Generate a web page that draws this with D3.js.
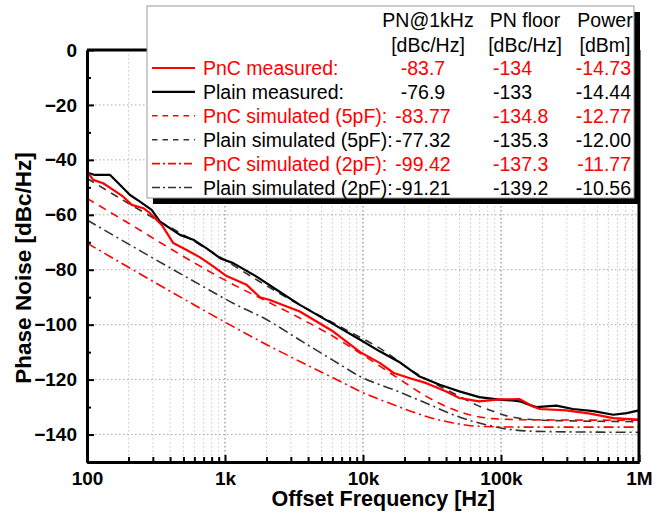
<!DOCTYPE html>
<meta charset="utf-8">
<style>
body { margin: 0; background: #fff; }
svg { font-family: "Liberation Sans", Arial, sans-serif; }
.axis text { font-size: 19px; font-weight: bold; fill: #000; }
.axis path, .axis line { stroke: #000; }
.grid line { fill: none; }
.legend text { font-size: 19.5px; }
</style>
<svg width="654" height="512"></svg>
<script src="https://cdn.jsdelivr.net/npm/d3@7"></script>
<script>

// measured & simulated phase noise, [offset Hz, dBc/Hz]
var plainMeasured = [[100,-44.6],[114,-45.5],[147,-45.5],[164,-47.9],[205,-52.8],[242,-55.2],[294,-58.2],[338,-62.5],
  [472,-67.3],[589,-69.1],[736,-72.2],[921,-75.8],[1146,-77.6],[1694,-82.5],[2363,-87.3],[3485,-92.8],[6095,-99.8],
  [9545,-105.5],[13300,-109.8],[18580,-113.8],[25750,-118.9],[36000,-121.9],[49900,-124.3],[69500,-126.4],
  [97000,-127.3],[120000,-127.6],[137000,-127.9],[161000,-129.2],[180000,-130],[252000,-129.5],[332000,-130.7],
  [468000,-131.5],[650000,-132.8],[815000,-132.2],[1000000,-131.2]];

var pncMeasured = [[100,-44.2],[111,-47.3],[131,-48.5],[155,-50.9],[183,-53.4],[211,-56.4],[256,-57.6],[286,-59.4],
  [348,-63.7],[422,-70.3],[527,-72.8],[659,-75.5],[822,-78.8],[1027,-82.3],[1434,-85.5],[1792,-90],[2113,-91],
  [3485,-95.2],[6095,-102.5],[9545,-110],[13300,-114],[16700,-117.6],[21900,-119.5],[28800,-121.3],[40100,-124.3],
  [49900,-126.7],[69500,-127.9],[97000,-127.2],[137000,-127.1],[170000,-129.8],[191000,-130.7],[297000,-131.2],
  [443000,-132.4],[650000,-134],[1000000,-134.6]];

var pncSim5 = [[100,-54],[183,-61.9],[660,-78.7],[1000,-83.8],[2008,-91.5],[3485,-97.6],[6095,-104.3],[9545,-110.4],
  [18580,-120],[28800,-126.1],[40100,-129.8],[59000,-132.8],[87500,-134.2],[150000,-134.6],[1000000,-134.8]];

var plainSim5 = [[100,-46.7],[205,-56.2],[660,-70.9],[1000,-76.5],[1738,-84],[3485,-92.8],[6830,-100.7],[15660,-111],
  [20700,-115.5],[36000,-122.4],[49900,-126.1],[66000,-129.2],[87500,-131.5],[110000,-133.2],[200000,-134.8],[1000000,-135.3]];

var pncSim2 = [[100,-70.3],[660,-94],[1146,-100.7],[2008,-107.3],[3485,-113.4],[6810,-120.6],[9545,-124.3],
  [16700,-129.2],[28800,-133.4],[45000,-135.8],[69500,-137],[150000,-137.3],[1000000,-137.3]];

var plainSim2 = [[100,-61.9],[660,-85.5],[1146,-92.2],[2008,-98.2],[3485,-105.6],[6810,-114.5],[9545,-118.9],
  [16700,-123.7],[28800,-128.6],[45000,-132.8],[62600,-135.2],[87500,-137],[110000,-138],[200000,-138.9],[1000000,-139.2]];

var xTickValues = [100, 1e3, 1e4, 1e5, 1e6];
var xTickLabels = ["100", "1k", "10k", "100k", "1M"];
var yTickValues = [0, -20, -40, -60, -80, -100, -120, -140];

var legendNames = ["PnC measured:", "Plain measured:", "PnC simulated (5pF):", "Plain simulated (5pF):",
  "PnC simulated (2pF):", "Plain simulated (2pF):"];
var legendPN1k = ["-83.7", "-76.9", "-83.77", "-77.32", "-99.42", "-91.21"];
var legendFloor = ["-134", "-133", "-134.8", "-135.3", "-137.3", "-139.2"];
var legendPower = ["-14.73", "-14.44", "-12.77", "-12.00", "-11.77", "-10.56"];

var series = [
  { data: pncMeasured, color: "#ff0000", dash: null, width: 2.2, smooth: false },
  { data: plainMeasured, color: "#000", dash: null, width: 2.2, smooth: false },
  { data: pncSim5, color: "#ff0000", dash: "8,6", width: 1.6, smooth: true },
  { data: plainSim5, color: "#333", dash: "8,6", width: 1.6, smooth: true },
  { data: pncSim2, color: "#ff0000", dash: "10,4,2,4", width: 1.6, smooth: true },
  { data: plainSim2, color: "#333", dash: "10,4,2,4", width: 1.6, smooth: true }
];

var svg = d3.select("svg");
var margin = { left: 87, right: 15, top: 50, bottom: 50 };
var width = 654 - margin.left - margin.right,
    height = 512 - margin.top - margin.bottom;

var x = d3.scaleLog().domain([100, 1e6]).range([0, width]);
var y = d3.scaleLinear().domain([-150, 0]).range([height, 0]);

var g = svg.append("g").attr("transform", "translate(" + margin.left + "," + margin.top + ")");

// grid
var minorX = [];
xTickValues.slice(0, -1).forEach(function(d) {
  d3.range(2, 10).forEach(function(k) { minorX.push(d * k); });
});
var grid = g.append("g").attr("class", "grid");
grid.selectAll(".vminor").data(minorX).enter().append("line")
  .attr("x1", function(d) { return x(d); }).attr("x2", function(d) { return x(d); })
  .attr("y1", 0).attr("y2", height)
  .attr("stroke", "#c8c8c8").attr("stroke-width", 1).attr("stroke-dasharray", "1.5,2.5");
grid.selectAll(".vmajor").data(xTickValues.slice(1, -1)).enter().append("line")
  .attr("x1", function(d) { return x(d); }).attr("x2", function(d) { return x(d); })
  .attr("y1", 0).attr("y2", height)
  .attr("stroke", "#777").attr("stroke-width", 1).attr("stroke-dasharray", "1.5,2.5");
grid.selectAll(".hmajor").data(yTickValues.slice(1)).enter().append("line")
  .attr("x1", 0).attr("x2", width)
  .attr("y1", function(d) { return y(d); }).attr("y2", function(d) { return y(d); })
  .attr("stroke", "#aaa").attr("stroke-width", 1).attr("stroke-dasharray", "1.5,2.5");

// curves
var lineLin = d3.line().x(function(d) { return x(d[0]); }).y(function(d) { return y(d[1]); });
var lineSmooth = d3.line().x(function(d) { return x(d[0]); }).y(function(d) { return y(d[1]); })
  .curve(d3.curveMonotoneX);

g.selectAll(".curve").data(series.slice().reverse()).enter().append("path")
  .attr("class", "curve")
  .attr("fill", "none")
  .attr("stroke", function(d) { return d.color; })
  .attr("stroke-width", function(d) { return d.width; })
  .attr("stroke-dasharray", function(d) { return d.dash; })
  .attr("stroke-linejoin", "round")
  .attr("d", function(d) { return d.smooth ? lineSmooth(d.data) : lineLin(d.data); });

// axes
g.append("g").attr("class", "axis")
  .attr("transform", "translate(0," + height + ")")
  .call(d3.axisBottom(x).tickValues(xTickValues)
    .tickFormat(function(d, i) { return xTickLabels[i]; })
    .tickSize(-7).tickSizeOuter(0).tickPadding(10));
g.append("g").attr("class", "axis")
  .attr("transform", "translate(0," + height + ")")
  .call(d3.axisBottom(x).tickValues(minorX).tickFormat("").tickSize(-5).tickSizeOuter(0));

g.append("g").attr("class", "axis")
  .call(d3.axisLeft(y).tickValues(yTickValues).tickSize(-7).tickSizeOuter(0).tickPadding(10));
g.append("g").attr("class", "axis")
  .call(d3.axisLeft(y).tickValues(d3.range(-150, 0, 10).filter(function(d) { return d % 20 !== 0; }))
    .tickFormat("").tickSize(-4).tickSizeOuter(0));

g.selectAll(".axis .tick line").attr("stroke-width", 2);
g.selectAll(".axis .domain").attr("stroke-width", 3);

// top & right frame
g.append("line").attr("x1", 0).attr("x2", width).attr("y1", 0).attr("y2", 0)
  .attr("stroke", "#000").attr("stroke-width", 3);
g.append("line").attr("x1", width).attr("x2", width).attr("y1", 0).attr("y2", height)
  .attr("stroke", "#000").attr("stroke-width", 3);

// axis titles
svg.append("text")
  .attr("x", margin.left + x(1.4e4)).attr("y", 506)
  .attr("text-anchor", "middle")
  .attr("font-size", 21.5).attr("font-weight", "bold")
  .text("Offset Frequency [Hz]");
svg.append("text")
  .attr("transform", "translate(31,268) rotate(-90)")
  .attr("text-anchor", "middle")
  .attr("font-size", 22.5).attr("font-weight", "bold")
  .text("Phase Noise [dBc/Hz]");

// legend
var lg = svg.append("g").attr("class", "legend");
var box = { x: 147, y: 6, w: 487, h: 192 };
lg.append("rect").attr("x", box.x + 6).attr("y", box.y + 6).attr("width", box.w).attr("height", box.h).attr("fill", "#000");
lg.append("rect").attr("x", box.x).attr("y", box.y).attr("width", box.w).attr("height", box.h)
  .attr("fill", "#fff").attr("stroke", "#999").attr("stroke-width", 1);

var heads = [["PN@1kHz", "[dBc/Hz]", 428], ["PN floor", "[dBc/Hz]", 525], ["Power", "[dBm]", 605]];
heads.forEach(function(h) {
  lg.append("text").attr("x", h[2]).attr("y", 27).attr("text-anchor", "middle").text(h[0]);
  lg.append("text").attr("x", h[2]).attr("y", 52).attr("text-anchor", "middle").text(h[1]);
});

var rows = lg.selectAll(".row").data(series).enter().append("g")
  .attr("transform", function(d, i) { return "translate(0," + (68 + i * 23.9) + ")"; });
rows.append("line")
  .attr("x1", 152).attr("x2", 195).attr("y1", 0).attr("y2", 0)
  .attr("stroke", function(d) { return d.color; })
  .attr("stroke-width", function(d) { return d.width; })
  .attr("stroke-dasharray", function(d) { return d.dash ? (d.dash === "8,6" ? "5.5,5" : "8,3,2,3") : null; });
rows.append("text").attr("x", 203).attr("y", 7)
  .attr("fill", function(d) { return d.color === "#333" ? "#000" : d.color; })
  .text(function(d, i) { return legendNames[i]; });
rows.append("text").attr("x", 423).attr("y", 7).attr("text-anchor", "middle")
  .attr("fill", function(d) { return d.color === "#333" ? "#000" : d.color; })
  .text(function(d, i) { return legendPN1k[i]; });
rows.append("text").attr("x", 493).attr("y", 7)
  .attr("fill", function(d) { return d.color === "#333" ? "#000" : d.color; })
  .text(function(d, i) { return legendFloor[i]; });
rows.append("text").attr("x", 631).attr("y", 7).attr("text-anchor", "end")
  .attr("fill", function(d) { return d.color === "#333" ? "#000" : d.color; })
  .text(function(d, i) { return legendPower[i]; });

</script>
